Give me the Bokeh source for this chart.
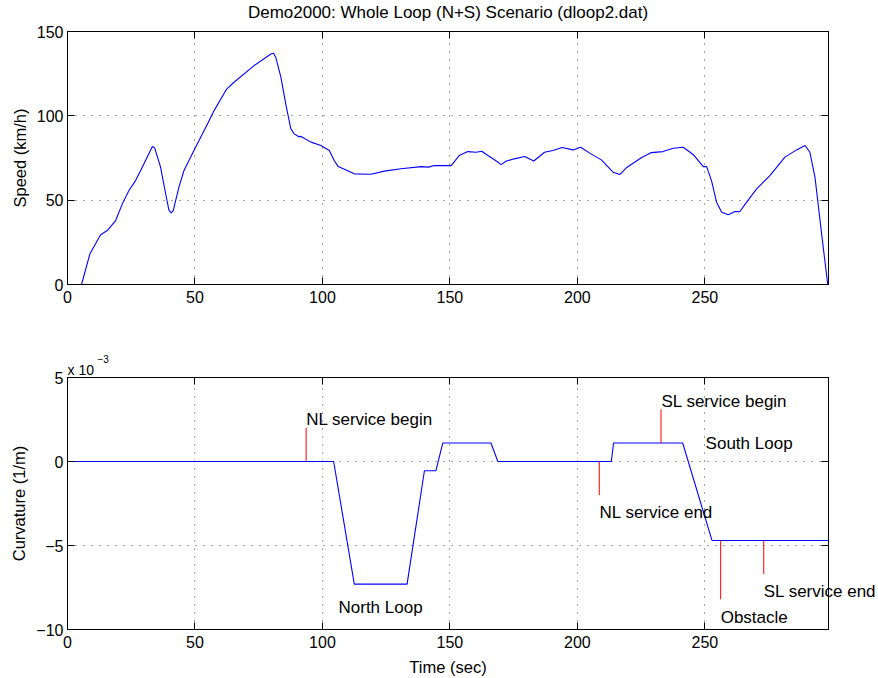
from bokeh.plotting import figure
from bokeh.layouts import column
from bokeh.models import (LinearAxis, Label, FixedTicker, CustomJSTickFormatter,
                          Range1d)
from bokeh.embed import file_html
from bokeh.resources import INLINE

FONT = "Liberation Sans"

# ---------------- data ----------------
title_text = "Demo2000: Whole Loop (N+S) Scenario (dloop2.dat)"

speed_t = [0, 5.5, 8.8, 13.0, 15.6, 18.9, 21.5, 24.1, 26.7, 28.7, 33.3, 34.2,
           36.5, 38.5, 39.8, 40.7, 41.5, 43.7, 45.7, 49.6, 54.9, 57.5, 62.5,
           65.3, 73.2, 79.8, 80.8, 81.7, 83.7, 85.6, 87.6, 88.9, 90.6, 91.6,
           95.5, 99.4, 102.7, 104.6, 106.2, 112.5, 119.0, 124.3, 130.8, 138.7,
           141.6, 143.9, 146.5, 150.5, 153.7, 157.0, 160.3, 162.5, 164.9,
           168.2, 170.1, 172.1, 175.3, 179.3, 182.9, 187.1, 190.4, 194.0,
           198.3, 201.3, 204.8, 209.4, 214.0, 216.6, 219.2, 225.1, 229.0,
           233.6, 237.6, 241.5, 245.4, 249.4, 250.7, 252.6, 254.6, 256.6,
           259.2, 261.8, 263.7, 266.4, 270.3, 275.5, 281.4, 286.0, 289.3,
           291.2, 293.2, 295.8, 298.2]
speed_v = [0, 0, 18.2, 29.5, 32.0, 37.9, 47.8, 55.7, 61.6, 67.6, 81.8, 81.0,
           69.6, 53.8, 43.9, 42.5, 44.0, 57.7, 67.6, 79.4, 95.2, 103.1, 116.0,
           119.9, 129.8, 136.7, 137.1, 134.7, 122.9, 107.1, 92.3, 89.3, 87.7,
           87.8, 84.4, 82.4, 79.4, 73.5, 69.9, 65.6, 65.4, 67.2, 68.6, 69.9,
           69.6, 70.5, 70.5, 70.5, 76.5, 78.8, 78.4, 79.0, 76.5, 73.2, 71.1,
           73.2, 74.5, 75.9, 73.2, 78.4, 79.4, 81.2, 79.8, 81.4, 77.9, 73.9,
           66.6, 65.2, 69.2, 75.1, 78.2, 78.8, 80.8, 81.4, 77.1, 69.9, 69.9,
           61.6, 48.8, 42.9, 41.3, 43.3, 43.1, 48.8, 56.7, 64.6, 75.5, 79.8,
           82.4, 78.4, 63.6, 30.0, 0.0]

curv_t = [0, 104.4, 112.5, 133.2, 140.0, 144.5, 147.2, 166.1, 168.8, 213.3,
          214.2, 241.3, 252.8, 298.5]
curv_k = [0, 0, -7.3e-3, -7.3e-3, -0.55e-3, -0.55e-3, 1.1e-3, 1.1e-3, 0, 0,
          1.1e-3, 1.1e-3, -4.7e-3, -4.7e-3]

mark_t = [93.6, 208.6, 232.8, 256.2, 273.1]
mark_y0 = [0, 0, 1.1e-3, -4.7e-3, -4.7e-3]
mark_y1 = [2.0e-3, -2.0e-3, 3.1e-3, -8.2e-3, -6.7e-3]

ann_t = [93.6, 106.3, 208.7, 233.0, 250.3, 256.2, 273.1]
ann_y = [2.5e-3, -8.7e-3, -3.05e-3, 3.55e-3, 1.1e-3, -9.3e-3, -7.75e-3]
ann_text = ["NL service begin", "North Loop", "NL service end",
            "SL service begin", "South Loop", "Obstacle", "SL service end"]

x_ticks = [0, 50, 100, 150, 200, 250]
speed_ticks = [0, 50, 100, 150]
curv_ticks = [-10e-3, -5e-3, 0, 5e-3]
x_max = 298.5

W = 878


def style(p, xt, yt, yfmt=None):
    p.xaxis.ticker = FixedTicker(ticks=xt)
    p.yaxis.ticker = FixedTicker(ticks=yt)
    if yfmt is not None:
        p.yaxis.formatter = yfmt
    for ax in (p.xaxis[0], p.yaxis[0]):
        ax.major_tick_in = 7
        ax.major_tick_out = 0
        ax.minor_tick_in = 0
        ax.minor_tick_out = 0
        ax.axis_line_color = "black"
        ax.axis_line_width = 1
        ax.major_tick_line_color = "black"
        ax.major_label_text_font = FONT
        ax.major_label_text_font_size = "16px"
        ax.major_label_text_color = "black"
        ax.axis_label_text_font = FONT
        ax.axis_label_text_font_size = "16.5px"
        ax.axis_label_text_font_style = "normal"
        ax.axis_label_text_color = "black"
    p.yaxis.major_label_standoff = 4
    p.yaxis.axis_label_standoff = 5
    p.xaxis.major_label_standoff = 6
    p.xaxis.axis_label_standoff = 7
    # box ticks on top and right
    for loc, tk in (("above", xt), ("right", yt)):
        ax = LinearAxis(ticker=FixedTicker(ticks=tk))
        ax.major_tick_in = 7
        ax.major_tick_out = 0
        ax.minor_tick_in = 0
        ax.minor_tick_out = 0
        ax.major_label_text_font_size = "0px"
        ax.major_label_standoff = 0
        ax.formatter = CustomJSTickFormatter(code="return ''")
        ax.axis_line_color = "black"
        p.add_layout(ax, loc)
    for g in (p.xgrid[0], p.ygrid[0]):
        g.grid_line_color = "#444444"
        g.grid_line_dash = "1 7"
        g.grid_line_width = 1
    p.outline_line_color = "black"
    p.background_fill_color = "white"
    p.border_fill_color = "white"


# ---------------- top figure ----------------
p1 = figure(width=W, height=310, output_backend="svg", toolbar_location=None,
            x_range=Range1d(0, x_max), y_range=Range1d(0, 150),
            min_border_left=67, min_border_right=50, min_border_top=31,
            min_border_bottom=26)
p1.line(speed_t, speed_v, line_color="#0000ff", line_width=1.1)
p1.yaxis.axis_label = "Speed (km/h)"
style(p1, x_ticks, speed_ticks)
# title, centred over the frame
p1.add_layout(Label(x=x_max / 2, y=p1.y_range.end, y_offset=19,
                    text=title_text, text_font=FONT, text_font_size="17px",
                    text_align="center", text_baseline="middle",
                    text_color="black"), "above")

# ---------------- bottom figure ----------------
p2 = figure(width=W, height=368, output_backend="svg", toolbar_location=None,
            x_range=Range1d(0, x_max), y_range=Range1d(-10e-3, 5e-3),
            min_border_left=67, min_border_right=50, min_border_top=67,
            min_border_bottom=49)
p2.line(curv_t, curv_k, line_color="#0000ff", line_width=1.1)
p2.segment(x0=mark_t, y0=mark_y0, x1=mark_t, y1=mark_y1,
           line_color="#ff0000", line_width=1)
fmt = CustomJSTickFormatter(code="""
    const v = Math.round(tick*1000);
    return v < 0 ? '\u2212' + Math.abs(v) : '' + v;
""")
p2.yaxis.axis_label = "Curvature (1/m)"
p2.xaxis.axis_label = "Time (sec)"
style(p2, x_ticks, curv_ticks, fmt)
for tx, ty, tt in zip(ann_t, ann_y, ann_text):
    lab = Label(x=tx, y=ty, text=tt, text_font=FONT,
                text_font_size="17px", text_align="left",
                text_baseline="middle", text_color="black")
    # the label running past the right frame edge lives in a side panel,
    # where annotations are not clipped to the frame
    p2.add_layout(lab, "above" if tt == "SL service end" else "center")
p2.add_layout(Label(x=0, y=5e-3, x_offset=0, y_offset=8, text="x 10",
                    text_font=FONT, text_font_size="14px",
                    text_baseline="alphabetic", text_align="left",
                    text_color="black"), "above")
p2.add_layout(Label(x=0, y=5e-3, x_offset=30, y_offset=19, text="\u22123",
                    text_font=FONT, text_font_size="10px",
                    text_baseline="alphabetic", text_align="left",
                    text_color="black"), "above")

layout = column(p1, p2, spacing=0)
open("out.html", "w").write(file_html(layout, INLINE))
